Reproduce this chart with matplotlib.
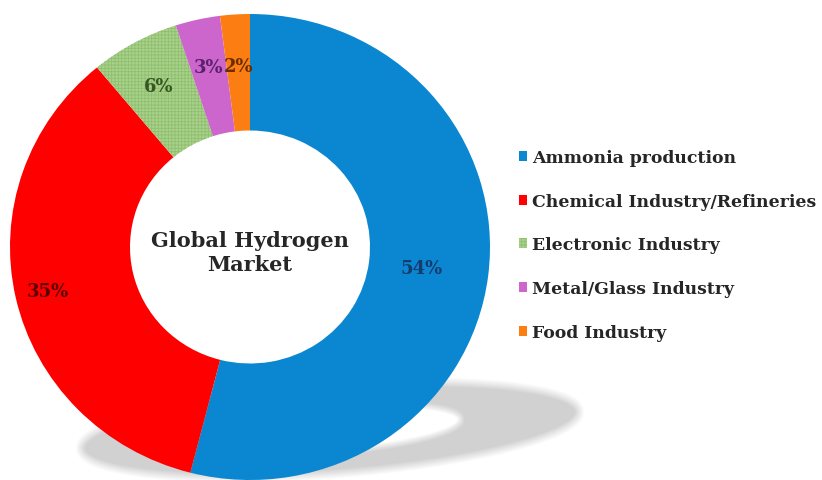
import numpy as np
import matplotlib.pyplot as plt

segments = ["Ammonia production", "Chemical Industry/Refineries",
            "Electronic Industry", "Metal/Glass Industry", "Food Industry"]
shares = [54, 35, 6, 3, 2]

colors = ["#0a87d0", "#fe0000", "#a9d18e", "#cc66cc", "#fc7e12"]
label_colors = ["#163b6e", "#5a0000", "#375623", "#5b1f6b", "#6b2d00"]
label_dist = [0.72, 0.865, 0.79, 0.79, 0.78]

plt.rcParams['font.family'] = ['DejaVu Serif']
plt.rcParams['hatch.linewidth'] = 0.6

W, H = 822, 481
fig = plt.figure(figsize=(W / 100, H / 100), dpi=100)


def ellipse_alpha(x, y, cx, cy, a, b, ang, soft):
    # smooth 0..1 coverage of a rotated ellipse, edge blurred over ~soft px
    t = np.deg2rad(ang)
    u = (x - cx) * np.cos(t) + (y - cy) * np.sin(t)
    v = -(x - cx) * np.sin(t) + (y - cy) * np.cos(t)
    r = np.sqrt((u / a) ** 2 + (v / b) ** 2) + 1e-9
    g = np.sqrt((u / a ** 2) ** 2 + (v / b ** 2) ** 2) / r + 1e-9
    dist = (r - 1) / g
    return np.clip(0.5 - dist / soft, 0, 1)


# soft grey shadow under the ring (pixel coordinates, y up)
yy, xx = np.mgrid[0:H, 0:W] + 0.5
outer = ellipse_alpha(xx, yy, 330, H - 431, 250, 44, 4.3, 10)
inner = ellipse_alpha(xx, yy, 330, H - 430, 131, 23, 4.3, 8)
shade = outer * (1 - inner)
img = np.zeros((H, W, 4))
img[..., :3] = 0.82
img[..., 3] = shade

bg = fig.add_axes([0, 0, 1, 1])
bg.imshow(img, extent=(0, W, 0, H), origin='lower', interpolation='bilinear')
bg.set_xlim(0, W)
bg.set_ylim(0, H)
bg.axis('off')

ax = fig.add_axes([0, 0, 1, 1])
ax.patch.set_alpha(0)
wedges, _ = ax.pie(shares, colors=colors, startangle=90, counterclock=False,
                   radius=1, wedgeprops=dict(width=0.5, linewidth=0))
wedges[2].set_hatch('+++++')
wedges[2].set_edgecolor('#8fbf6c')

ax.set_aspect('auto')
ax.set_xlim(-250 / 240, 572 / 240)
ax.set_ylim(-1.0, 248 / 233)

for w, v, c, d in zip(wedges, shares, label_colors, label_dist):
    th = np.deg2rad((w.theta1 + w.theta2) / 2)
    ax.text(d * np.cos(th), d * np.sin(th), f"{v}%", ha='center', va='center',
            fontsize=13, fontweight='bold', color=c)

ax.text(0, -0.02, "Global Hydrogen\nMarket", ha='center', va='center',
        fontsize=15, fontweight='bold', color='#262626', linespacing=1.25)

leg = fig.legend(wedges, segments, loc='center left',
                 bbox_to_anchor=(503 / W, 1 - 246 / H), frameon=False,
                 handlelength=0.5, handleheight=0.5, handletextpad=0.3,
                 labelspacing=1.55, prop=dict(weight='bold', size=12.4))
for t in leg.get_texts():
    t.set_color('#262626')

fig.savefig('out.png', dpi=100)
